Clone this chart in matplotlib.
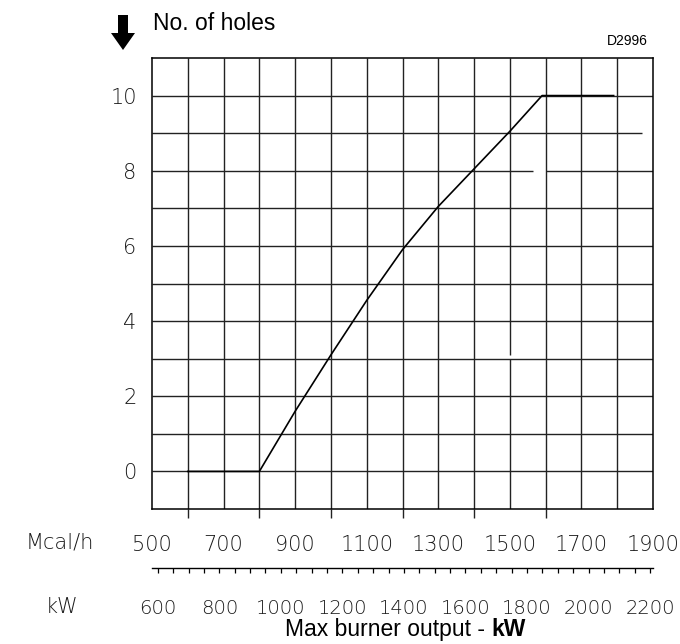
import numpy as np
import matplotlib
matplotlib.use("Agg")
from matplotlib import pyplot as plt
from matplotlib.patches import Polygon
from matplotlib.ticker import FixedLocator, MultipleLocator

# curve: max burner output (Mcal/h) -> number of holes
output_mcal = [600, 800, 900, 1000, 1100, 1200, 1300, 1400, 1500, 1590, 1790]
holes = [0, 0, 1.6, 3.1, 4.55, 5.9, 7.05, 8.05, 9.05, 10, 10]

mcal_labels = [500, 700, 900, 1100, 1300, 1500, 1700, 1900]
kw_labels = [600, 800, 1000, 1200, 1400, 1600, 1800, 2000, 2200]
hole_labels = [0, 2, 4, 6, 8, 10]

KW_TO_MCAL = 0.86
CAD_FONT = dict(family=["DejaVu Sans"], weight=200, color="#1a1a1a")
ARIAL = ["Liberation Sans", "DejaVu Sans"]
W, H = 680, 644

fig = plt.figure(figsize=(W / 100, H / 100), dpi=100)
ax = fig.add_axes([152 / W, 1 - 509 / H, 501 / W, 451 / H])
ax.set_xlim(500, 1900)
ax.set_ylim(-1, 11)

# grid, drawn by hand because some lines are cut short in the original
gc = dict(color="#222222", lw=1.0, zorder=1)
for x in range(600, 1900, 100):
    if x == 1500:
        ax.vlines(x, -1, 2.99, **gc)
        ax.vlines(x, 3.09, 11, **gc)
    else:
        ax.vlines(x, -1, 11, **gc)
for y in range(0, 11):
    if y == 9:
        ax.hlines(y, 500, 1870, **gc)
    elif y == 8:
        ax.hlines(y, 500, 1564, **gc)
        ax.hlines(y, 1600, 1900, **gc)
    else:
        ax.hlines(y, 500, 1900, **gc)

for s in ax.spines.values():
    s.set_color("black")
    s.set_linewidth(1.1)

ax.plot(output_mcal, holes, color="black", lw=1.2, zorder=3)

# y axis labels
ax.yaxis.set_major_locator(FixedLocator(hole_labels))
ax.tick_params(axis="y", length=0, pad=11, labelsize=15)
for lbl in ax.get_yticklabels():
    lbl.set(**CAD_FONT)

# Mcal/h labels + short marks below the box
ax.xaxis.set_major_locator(FixedLocator(mcal_labels))
ax.xaxis.set_minor_locator(FixedLocator([600, 800, 1000, 1200, 1400, 1600]))
ax.tick_params(axis="x", which="major", length=0, pad=19, labelsize=15)
ax.tick_params(axis="x", which="minor", length=6.5, width=1.0, direction="out", color="#222222")
for lbl in ax.get_xticklabels():
    lbl.set(**CAD_FONT)

# kW scale
sec = ax.secondary_xaxis(-58.7 / 451, functions=(lambda m: m / KW_TO_MCAL, lambda k: k * KW_TO_MCAL))
sec.spines["bottom"].set_linewidth(1.0)
sec.xaxis.set_major_locator(FixedLocator(kw_labels))
sec.xaxis.set_minor_locator(MultipleLocator(50))
sec.tick_params(which="both", length=3.8, width=0.9, direction="out")
sec.tick_params(which="major", pad=19, labelsize=14)
for lbl in sec.get_xticklabels():
    lbl.set(**CAD_FONT)

fig.text(60 / W, 1 - 543 / H, "Mcal/h", ha="center", va="center", fontsize=15, **CAD_FONT)
fig.text(62 / W, 1 - 607 / H, "kW", ha="center", va="center", fontsize=15, **CAD_FONT)

fig.text(153 / W, 1 - 30 / H, "No. of holes", ha="left", va="baseline",
         fontsize=16.5, family=ARIAL)
fig.text(648 / W, 1 - 45 / H, "D2996", ha="right", va="baseline",
         fontsize=10, family=ARIAL)
fig.text(491 / W, 1 - 636 / H, "Max burner output - ", ha="right", va="baseline",
         fontsize=16.5, family=ARIAL)
fig.text(491 / W, 1 - 636 / H, "kW", ha="left", va="baseline", fontsize=16.5,
         weight="bold", family=ARIAL)

# down arrow next to the y axis title
px = [(118, 15), (128, 15), (128, 33), (135, 33), (123, 50), (111, 33), (118, 33)]
arrow = Polygon([(x / W, 1 - y / H) for x, y in px], closed=True,
                facecolor="black", edgecolor="none", transform=fig.transFigure)
fig.patches.append(arrow)

fig.savefig("out.png", dpi=100)
